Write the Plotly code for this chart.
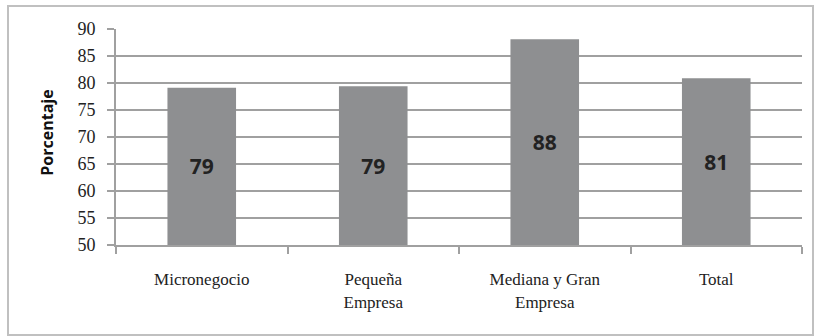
import plotly.graph_objects as go

# Datos del gráfico
categorias = ["Micronegocio", "Pequeña<br>Empresa", "Mediana y Gran<br>Empresa", "Total"]
porcentajes = [79.1, 79.4, 88.1, 80.9]
etiquetas = ["79", "79", "88", "81"]
ticks_y = [50, 55, 60, 65, 70, 75, 80, 85, 90]

BASE = 50  # el eje vertical comienza en 50 y las barras nacen ahí
GRIS_EJE = "#a0a0a0"
GRIS_BARRA = "#8e8f91"
SERIF = "Liberation Serif"
SANS = "Open Sans"

fig = go.Figure(
    go.Bar(
        x=categorias,
        y=[v - BASE for v in porcentajes],
        base=BASE,
        text=["<b>%s</b>" % e for e in etiquetas],
        textposition="inside",
        insidetextanchor="middle",
        textangle=0,
        textfont=dict(family=SANS, size=21, color="#222222"),
        marker=dict(color=GRIS_BARRA, line=dict(width=0)),
        width=0.4,
        hovertext=[str(v) for v in porcentajes],
    )
)

fig.update_layout(
    width=815,
    height=336,
    margin=dict(l=116, r=13, t=29, b=91),
    paper_bgcolor="white",
    plot_bgcolor="white",
    showlegend=False,
    font=dict(family=SERIF, size=17, color="#222222"),
)

fig.update_xaxes(
    range=[-0.5, 3.5],
    showline=True,
    linecolor=GRIS_EJE,
    linewidth=2,
    ticks="outside",
    tickson="boundaries",
    ticklen=7,
    tickwidth=2,
    tickcolor=GRIS_EJE,
    showgrid=False,
    tickfont=dict(family=SERIF, size=17, color="#222222"),
    ticklabelstandoff=18,
)

fig.update_yaxes(
    range=[50, 90],
    tickvals=ticks_y,
    showline=True,
    linecolor=GRIS_EJE,
    linewidth=2,
    ticks="outside",
    ticklen=7,
    tickwidth=2,
    tickcolor=GRIS_EJE,
    showgrid=True,
    gridcolor=GRIS_EJE,
    gridwidth=2,
    zeroline=False,
    tickfont=dict(family=SERIF, size=18, color="#222222"),
    ticklabelstandoff=8,
)

# Título del eje vertical
fig.add_annotation(
    text="<b>Porcentaje</b>",
    xref="paper",
    yref="paper",
    x=(47 - 116) / 686,
    y=0.52,
    textangle=-90,
    showarrow=False,
    font=dict(family=SANS, size=16, color="#111111"),
    xanchor="center",
    yanchor="middle",
)

# Marco exterior del gráfico
fig.add_shape(
    type="rect",
    xref="paper",
    yref="paper",
    x0=(8 - 116) / 686,
    x1=(813 - 116) / 686,
    y0=(245 - 335) / 216,
    y1=(245 - 6) / 216,
    line=dict(color="#c0c0c0", width=2),
    fillcolor="rgba(0,0,0,0)",
    layer="below",
)

fig.write_html("out.html")
